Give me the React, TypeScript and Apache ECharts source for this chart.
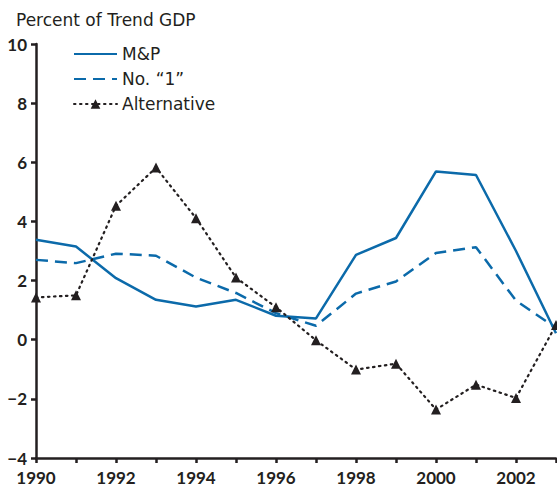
import React, { useEffect, useRef } from "react";
import * as echarts from "echarts";

const years = ["1990","1991","1992","1993","1994","1995","1996","1997","1998","1999","2000","2001","2002","2003"];
const mpValues = [3.38, 3.15, 2.08, 1.35, 1.12, 1.35, 0.81, 0.72, 2.87, 3.44, 5.69, 5.57, 3.0, 0.22];
const no1Values = [2.7, 2.59, 2.91, 2.84, 2.1, 1.58, 0.9, 0.47, 1.56, 1.97, 2.93, 3.13, 1.32, 0.4];
const altValues = [1.43, 1.5, 4.53, 5.82, 4.11, 2.1, 1.1, -0.02, -1.01, -0.81, -2.36, -1.52, -1.97, 0.5];
const yTicks = { min: -4, max: 10, interval: 2 };
const titleText = "Percent of Trend GDP";
const seriesNames = ["M&P", "No. \u201c1\u201d", "Alternative"];

const INK = "#231f20";
const BLUE = "#0b6aaa";
const FONT = "'DejaVu Sans', sans-serif";
const NUMFONT = "Lato, 'DejaVu Sans', sans-serif";

export default function App() {
  const ref = useRef<HTMLDivElement>(null);
  useEffect(() => {
    if (!ref.current) return;
    const chart = echarts.init(ref.current, null, { renderer: "svg" });
    const hidden = { opacity: 0, color: "rgba(0,0,0,0)", borderWidth: 0 };
    chart.setOption({
      animation: false,
      backgroundColor: "#ffffff",
      title: {
        text: titleText,
        left: 11,
        top: 6,
        textStyle: { fontFamily: FONT, fontSize: 17, fontWeight: "normal", color: INK },
      },
      legend: {
        orient: "vertical",
        left: 68,
        top: 39,
        itemWidth: 43,
        itemHeight: 12,
        itemGap: 5,
        textStyle: { fontFamily: FONT, fontSize: 17, color: INK, lineHeight: 20 },
        data: [
          { name: seriesNames[0], itemStyle: hidden },
          { name: seriesNames[1], itemStyle: hidden },
          { name: seriesNames[2] },
        ],
      },
      grid: { left: 36, right: 1, top: 44, bottom: 29, containLabel: false },
      xAxis: {
        type: "category",
        data: years,
        boundaryGap: false,
        axisLine: { onZero: false, lineStyle: { color: INK, width: 2.5 } },
        axisTick: { show: true, length: 5, interval: 0, lineStyle: { color: INK, width: 2.5 } },
        axisLabel: { interval: 1, margin: 11, fontFamily: NUMFONT, fontWeight: "bold", fontSize: 17, color: INK },
        splitLine: { show: false },
      },
      yAxis: {
        type: "value",
        min: yTicks.min,
        max: yTicks.max,
        interval: yTicks.interval,
        axisLine: { show: true, lineStyle: { color: INK, width: 2.5 } },
        axisTick: { show: true, length: 5, lineStyle: { color: INK, width: 2.5 } },
        axisLabel: {
          margin: 9,
          fontFamily: NUMFONT,
          fontWeight: "bold",
          fontSize: 17,
          color: INK,
          formatter: (v: number) => (v < 0 ? "\u2212" + Math.abs(v) : String(v)),
        },
        splitLine: { show: false },
      },
      series: [
        {
          name: seriesNames[0],
          type: "line",
          data: mpValues,
          symbol: "none",
          clip: false,
          lineStyle: { color: BLUE, width: 2.5, type: "solid" },
          itemStyle: { color: BLUE },
          z: 3,
        },
        {
          name: seriesNames[1],
          type: "line",
          data: no1Values,
          symbol: "none",
          clip: false,
          lineStyle: { color: BLUE, width: 2.5, type: [12, 7] },
          itemStyle: { color: BLUE },
          z: 2,
        },
        {
          name: seriesNames[2],
          type: "line",
          data: altValues,
          symbol: "triangle",
          symbolSize: 10,
          clip: false,
          lineStyle: { color: INK, width: 2.2, type: [1.5, 4.5], cap: "round" },
          itemStyle: { color: INK },
          z: 4,
        },
      ],
    });
    return () => chart.dispose();
  }, []);
  return (
    <div
      ref={ref}
      style={{ position: "fixed", left: 0, top: 0, width: 557, height: 487, background: "#fff" }}
    />
  );
}
